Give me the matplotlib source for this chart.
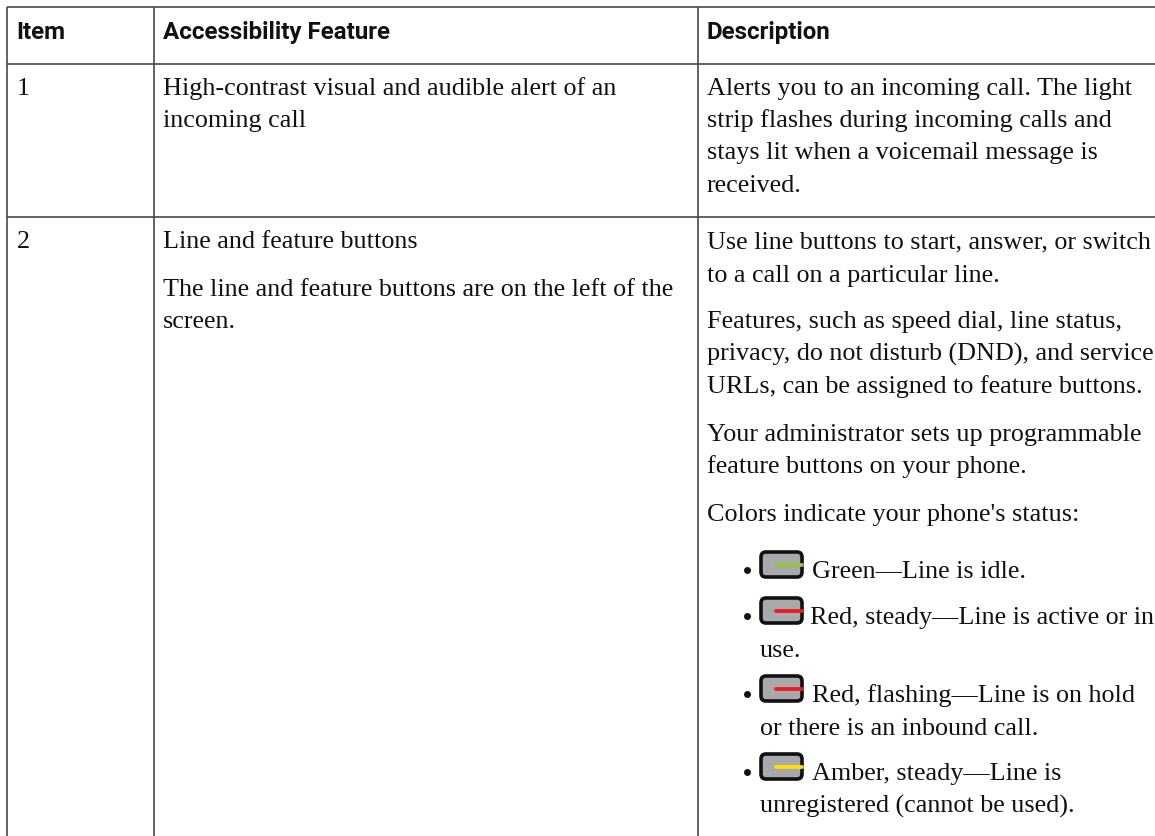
import matplotlib
matplotlib.use("Agg")
import matplotlib.pyplot as plt
from matplotlib.patches import FancyBboxPatch

W, H = 1155, 836
headers = ["Item", "Accessibility Feature", "Description"]
item_labels = ["1", "2"]
feature_lines = [
    "High-contrast visual and audible alert of an", "incoming call",
    "Line and feature buttons",
    "The line and feature buttons are on the left of the", "screen.",
]
feature_base = [95, 127, 248, 296, 328]
desc_lines = [
    "Alerts you to an incoming call. The light",
    "strip flashes during incoming calls and",
    "stays lit when a voicemail message is",
    "received.",
    "Use line buttons to start, answer, or switch",
    "to a call on a particular line.",
    "Features, such as speed dial, line status,",
    "privacy, do not disturb (DND), and service",
    "URLs, can be assigned to feature buttons.",
    "Your administrator sets up programmable",
    "feature buttons on your phone.",
    "Colors indicate your phone's status:",
]
desc_base = [95, 127, 159, 192, 248, 282, 328, 361, 393, 441, 473, 521]
bullets = [
    ("Green\u2014Line is idle.", None, "#8dc63f", 578, 812),
    ("Red, steady\u2014Line is active or in", "use.", "#ed1c24", 624, 810),
    ("Red, flashing\u2014Line is on hold", "or there is an inbound call.", "#ed1c24", 702, 812),
    ("Amber, steady\u2014Line is", "unregistered (cannot be used).", "#ffde00", 780, 812),
]
h_rules = [7, 64, 217]
v_rules = [7, 154, 698]

fig = plt.figure(figsize=(W / 100, H / 100), dpi=100)
ax = fig.add_axes([0, 0, 1, 1])
ax.set_xlim(0, W)
ax.set_ylim(H, 0)
ax.axis("off")

rule = "#484848"
for y in h_rules:
    ax.plot([7, W], [y, y], color=rule, lw=1.2, solid_capstyle="butt")
for x in v_rules:
    ax.plot([x, x], [7, H], color=rule, lw=1.2, solid_capstyle="butt")

head_font = dict(family="Roboto", weight="bold", fontsize=17.4, color="#111111", va="baseline")
body_font = dict(family="Liberation Serif", fontsize=18.8, color="#111111", va="baseline")

for x, t in zip([16, 163, 707], headers):
    ax.text(x, 39, t, **head_font)
for y, t in zip([95, 248], item_labels):
    ax.text(17, y, t, **body_font)
for y, t in zip(feature_base, feature_lines):
    ax.text(163, y, t, **body_font)
for y, t in zip(desc_base, desc_lines):
    ax.text(707, y, t, **body_font)

for first, second, colour, y, tx in bullets:
    ax.plot([747], [y - 8], "o", ms=5, color="#111111", mew=0)
    ax.add_patch(FancyBboxPatch((761, y - 26), 41, 25, boxstyle="round,pad=0,rounding_size=5",
                                fc="#a7a9ac", ec="#111111", lw=2.6))
    ax.plot([776, 802], [y - 13, y - 13], color=colour, lw=2.8, solid_capstyle="round")
    ax.text(tx, y, first, **body_font)
    if second:
        ax.text(760, y + 33, second, **body_font)

fig.savefig("out.png", dpi=100)
